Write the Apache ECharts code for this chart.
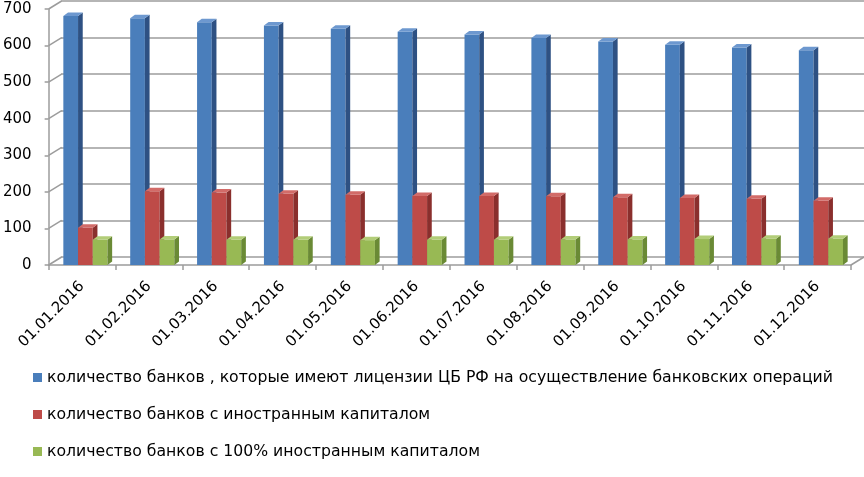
<!DOCTYPE html>
<html>
<head>
<meta charset="utf-8">
<script src="https://cdn.jsdelivr.net/npm/echarts@6/dist/echarts.min.js"></script>
<style>
html, body { margin: 0; padding: 0; background: #fff; }
#chart { width: 864px; height: 477px; }
</style>
</head>
<body>
<div id="chart"></div>
<script>
var categories = ['01.01.2016', '01.02.2016', '01.03.2016', '01.04.2016', '01.05.2016', '01.06.2016',
	'01.07.2016', '01.08.2016', '01.09.2016', '01.10.2016', '01.11.2016', '01.12.2016'];
var licensedBanks = [681, 675, 664, 655, 646, 638, 630, 621, 611, 602, 595, 587];
var foreignBanks = [102, 202, 198, 195, 192, 189, 189, 188, 185, 183, 181, 176];
var foreign100Banks = [69, 70, 69, 69, 68, 69, 69, 70, 70, 71, 72, 72];
var yTicks = [0, 100, 200, 300, 400, 500, 600, 700];

var seriesNames = [
	'количество банков , которые имеют лицензии ЦБ РФ на осуществление банковских операций',
	'количество банков с иностранным капиталом',
	'количество банков с 100% иностранным капиталом'
];

// front / side / top colours for each series
var palette = [
	['#4a7ebb', '#2e5183', '#6d98cf'],
	['#be4b48', '#8a2f2d', '#d26b68'],
	['#98b954', '#6a8a35', '#b2cd78']
];

// offset of the back wall against the front plane
var wallDx = 13;
var wallDy = 8;

function barRenderer(idx) {
	return function (params, api) {
		var i = api.value(0);
		var v = api.value(1);
		var base = api.coord([i, 0]);
		var top = api.coord([i, v]);
		var band = api.size([1, 0])[0];
		var bw = band * 0.22;
		var dx = band * 0.07;
		var dy = 3.5;
		var x0 = base[0] - 1.5 * bw + band * 0.05 + idx * bw;
		var x1 = x0 + bw;
		var c = palette[idx];
		return {
			type: 'group',
			children: [
				{
					type: 'rect',
					shape: {x: x0, y: top[1], width: bw, height: base[1] - top[1]},
					style: {fill: c[0]}
				},
				{
					type: 'polygon',
					shape: {points: [[x1, top[1]], [x1 + dx, top[1] - dy], [x1 + dx, base[1] - dy], [x1, base[1]]]},
					style: {fill: c[1]}
				},
				{
					type: 'polygon',
					shape: {points: [[x0, top[1]], [x0 + dx, top[1] - dy], [x1 + dx, top[1] - dy], [x1, top[1]]]},
					style: {fill: c[2]}
				}
			]
		};
	};
}

function frameRenderer(params, api) {
	var v = api.value(0);
	var band = api.size([1, 0])[0];
	var left = api.coord([0, v]);
	var lx = left[0] - band / 2;
	var children = [{
		type: 'line',
		shape: {x1: lx, y1: left[1], x2: lx + wallDx, y2: left[1] - wallDy},
		style: {stroke: '#9c9c9c', lineWidth: 1.5}
	}];
	if (v === 0) {
		var right = api.coord([categories.length - 1, v]);
		var rx = right[0] + band / 2;
		children.push({
			type: 'line',
			shape: {x1: rx, y1: right[1], x2: rx + wallDx, y2: right[1] - wallDy},
			style: {stroke: '#9c9c9c', lineWidth: 1.5}
		});
	}
	return {type: 'group', children: children};
}

var barData = [licensedBanks, foreignBanks, foreign100Banks].map(function (vals) {
	return vals.map(function (val, i) { return [i, val]; });
});

var chart = echarts.init(document.getElementById('chart'));

var options = {
	animation: false,
	backgroundColor: '#fff',
	legend: {
		orient: 'vertical',
		left: 28,
		top: 364,
		icon: 'rect',
		itemWidth: 9,
		itemHeight: 9,
		itemGap: 20,
		itemTextGap: 5,
		selectedMode: false,
		data: seriesNames,
		textStyle: {fontFamily: 'DejaVu Sans', fontSize: 15.7, color: '#000', lineHeight: 17}
	},
	grid: [
		{left: 48, right: 13, top: 9, bottom: 212},
		{left: 48 + wallDx, right: 13 - wallDx, top: 9 - wallDy, bottom: 212 + wallDy}
	],
	xAxis: [
		{
			type: 'category',
			gridIndex: 0,
			data: categories,
			axisLine: {lineStyle: {color: '#9c9c9c', width: 1.5}},
			axisTick: {show: true, length: 5, lineStyle: {color: '#9c9c9c', width: 1.5}},
			axisLabel: {
				interval: 0,
				rotate: 45,
				margin: 19,
				fontFamily: 'DejaVu Sans',
				fontSize: 15,
				color: '#000'
			}
		},
		{type: 'category', gridIndex: 1, data: categories, show: false}
	],
	yAxis: [
		{
			type: 'value',
			gridIndex: 0,
			min: 0,
			max: 700,
			interval: 100,
			axisLine: {show: true, lineStyle: {color: '#9c9c9c', width: 1.5}},
			axisTick: {show: true, length: 4, lineStyle: {color: '#9c9c9c', width: 1.5}},
			splitLine: {show: false},
			axisLabel: {margin: 17, fontFamily: 'DejaVu Sans', fontSize: 15, color: '#000'}
		},
		{
			type: 'value',
			gridIndex: 1,
			min: 0,
			max: 700,
			interval: 100,
			axisLine: {show: false},
			axisTick: {show: false},
			axisLabel: {show: false},
			splitLine: {show: true, lineStyle: {color: '#9c9c9c', width: 1.5}}
		}
	],
	series: [
		{
			type: 'custom',
			name: 'frame',
			xAxisIndex: 0,
			yAxisIndex: 0,
			renderItem: frameRenderer,
			data: yTicks.map(function (t) { return [t]; }),
			encode: {y: 0},
			silent: true,
			z: 1
		}
	].concat(seriesNames.map(function (name, idx) {
		return {
			type: 'custom',
			name: name,
			xAxisIndex: 0,
			yAxisIndex: 0,
			renderItem: barRenderer(idx),
			itemStyle: {color: palette[idx][0]},
			encode: {x: 0, y: 1},
			data: barData[idx],
			z: 3 + idx
		};
	}))
};

chart.setOption(options);
</script>
</body>
</html>
